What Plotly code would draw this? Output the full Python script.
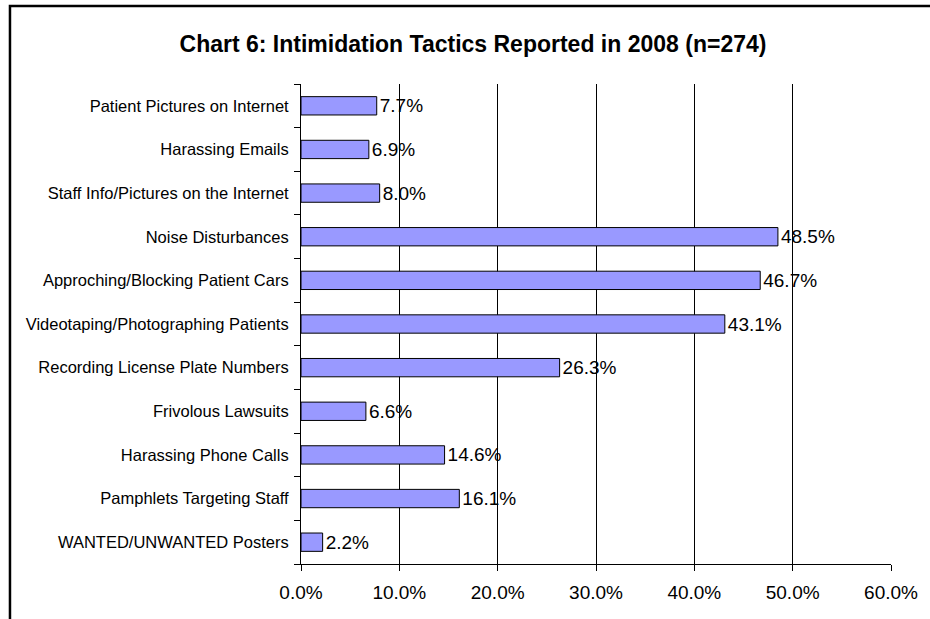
import plotly.graph_objects as go

categories = [
    "Patient Pictures on Internet",
    "Harassing Emails",
    "Staff Info/Pictures on the Internet",
    "Noise Disturbances",
    "Approching/Blocking Patient Cars",
    "Videotaping/Photographing Patients",
    "Recording License Plate Numbers",
    "Frivolous Lawsuits",
    "Harassing Phone Calls",
    "Pamphlets Targeting Staff",
    "WANTED/UNWANTED Posters",
]
values = [7.7, 6.9, 8.0, 48.5, 46.7, 43.1, 26.3, 6.6, 14.6, 16.1, 2.2]
tick_values = [0, 10, 20, 30, 40, 50, 60]
tick_labels = ["0.0%", "10.0%", "20.0%", "30.0%", "40.0%", "50.0%", "60.0%"]
grid_values = [10, 20, 30, 40, 50]

FONT = "Liberation Sans, Arial, sans-serif"

fig = go.Figure()
fig.add_trace(go.Bar(
    y=categories, x=values, orientation="h",
    marker=dict(color="#9999FF", line=dict(color="black", width=1)),
    width=0.42,
    text=[f"{v:.1f}%" for v in values],
    textposition="outside",
    constraintext="none",
    textfont=dict(family=FONT, size=19, color="black"),
    cliponaxis=False,
    hoverinfo="skip",
))
# invisible trace to carry the gridline axis
fig.add_trace(go.Scatter(x=[0], y=[categories[0]], xaxis="x2", mode="markers",
                         marker=dict(opacity=0), showlegend=False, hoverinfo="skip"))

W, H = 930, 619
L, R, T, B = 301, 35, 84, 55
pw, ph = W - L - R, H - T - B

def px2x(px):
    return (px - L) / pw

def py2y(py):
    return (H - B - py) / ph

fig.update_layout(
    width=W, height=H,
    margin=dict(l=L, r=R, t=T, b=B),
    paper_bgcolor="white", plot_bgcolor="white",
    showlegend=False,
    title=dict(
        text="<b>Chart 6: Intimidation Tactics Reported in 2008 (n=274)</b>",
        font=dict(family=FONT, size=23, color="black"),
        x=473 / W, xanchor="center", xref="container",
        y=1 - 44 / H, yanchor="middle", yref="container",
    ),
    xaxis=dict(
        range=[0, 60], tickvals=tick_values, ticktext=tick_labels,
        showgrid=False, zeroline=False,
        showline=True, linecolor="black", linewidth=1,
        ticks="outside", ticklen=6, tickcolor="black", tickwidth=1,
        tickfont=dict(family=FONT, size=19, color="black"),
        ticklabelstandoff=5,
        fixedrange=True,
    ),
    xaxis2=dict(
        range=[0, 60], overlaying="x", matches="x", tickvals=grid_values,
        showgrid=True, gridcolor="black", gridwidth=1,
        showticklabels=False, ticks="", showline=False, zeroline=False,
        side="bottom",
    ),
    yaxis=dict(
        categoryorder="array", categoryarray=categories[::-1],
        autorange=False, range=[-0.5, len(categories) - 0.5],
        showgrid=False, zeroline=False,
        showline=True, linecolor="black", linewidth=1,
        ticks="outside", ticklen=6, tickcolor="black", tickson="boundaries",
        tickfont=dict(family=FONT, size=16.5, color="black"),
        ticklabelstandoff=8,
    ),
    shapes=[
        dict(type="rect", xref="paper", yref="paper",
             x0=px2x(8), x1=px2x(940), y0=py2y(630), y1=py2y(6),
             line=dict(color="black", width=2.5), fillcolor="rgba(0,0,0,0)",
             layer="above"),
    ],
)

fig.write_html("out.html", config={"displayModeBar": False},
               post_script="document.body.style.margin='0px';")
